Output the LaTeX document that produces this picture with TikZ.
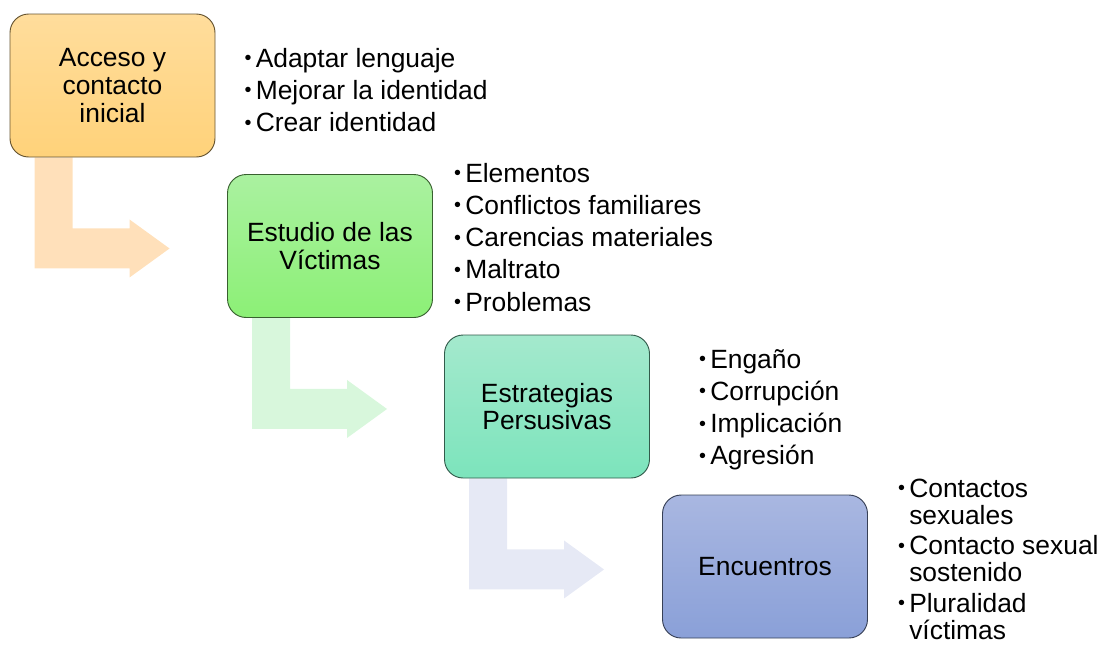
\documentclass[tikz,border=0pt]{standalone}
\usepackage{fontspec}
\setmainfont{Liberation Sans}
\definecolor{accTop}{RGB}{255,221,156}
\definecolor{accBot}{RGB}{255,210,122}
\definecolor{estTop}{RGB}{170,241,160}
\definecolor{estBot}{RGB}{140,240,118}
\definecolor{strTop}{RGB}{164,233,205}
\definecolor{strBot}{RGB}{124,228,188}
\definecolor{encTop}{RGB}{169,183,225}
\definecolor{encBot}{RGB}{138,160,216}
\definecolor{arrAcc}{RGB}{255,224,186}
\definecolor{arrEst}{RGB}{216,247,220}
\definecolor{arrStr}{RGB}{230,233,245}
\usetikzlibrary{calc}
\usetikzlibrary{shadings}
\pgfdeclarelayer{bg}
\pgfsetlayers{bg,main}
\newcommand{\dotitem}{\hspace{0.6pt}\raisebox{1.8pt}{\scalebox{0.75}{•}}}

\begin{document}
\begin{tikzpicture}[x=0.75pt, y=-0.75pt,
	stage/.style 2 args={top color=#1, bottom color=#2, draw=#2!40!black, line width=0.7pt,
		rounded corners=14pt, minimum width=153.75pt, minimum height=107.25pt,
		align=center, inner sep=2pt, font=\fontsize{19.8}{20.8}\selectfont},
	points/.style={anchor=base west, inner sep=0pt, font=\fontsize{19.8}{24.2}\selectfont}]
	\useasboundingbox (0,0) rectangle (1105,644);

	% etapas
	\node[stage={accTop}{accBot}] (acceso) at (112.5,85.5) {Acceso y\\contacto\\inicial};
	\node[stage={estTop}{estBot}] (estudio) at (330,246) {Estudio de las\\Víctimas};
	\node[stage={strTop}{strBot}] (estrategias) at (547,406.5) {Estrategias\\Persusivas};
	\node[stage={encTop}{encBot}] (encuentros) at (765,566.5) {Encuentros};

	% listas
	\node[points] (lacceso) at (243.5,67) {\begin{tabular}[t]{@{}l@{\hspace{3.2pt}}l@{}}
		\dotitem & Adaptar lenguaje\\
		\dotitem & Mejorar la identidad\\
		\dotitem & Crear identidad
	\end{tabular}};
	\node[points] (lestudio) at (453,182) {\begin{tabular}[t]{@{}l@{\hspace{3.2pt}}l@{}}
		\dotitem & Elementos\\
		\dotitem & Conflictos familiares\\
		\dotitem & Carencias materiales\\
		\dotitem & Maltrato\\
		\dotitem & Problemas
	\end{tabular}};
	\node[points] (lestrategias) at (698,368) {\begin{tabular}[t]{@{}l@{\hspace{3.2pt}}l@{}}
		\dotitem & Engaño\\
		\dotitem & Corrupción\\
		\dotitem & Implicación\\
		\dotitem & Agresión
	\end{tabular}};
	\node[points, font=\fontsize{19.8}{19.9}\selectfont] (lencuentros) at (897,497) {\begin{tabular}[t]{@{}l@{\hspace{3.2pt}}l@{}}
		\dotitem & Contactos\\
		         & sexuales\\[2.6pt]
		\dotitem & Contacto sexual\\
		         & sostenido\\[2.6pt]
		\dotitem & Pluralidad\\
		         & víctimas
	\end{tabular}};

	% flechas
	\begin{pgfonlayer}{bg}
		\foreach \from/\col in {acceso/arrAcc, estudio/arrEst, estrategias/arrStr} {
			\begin{scope}[shift={(\from.south west)}]
				\fill[\col] (25,0) -- (25,111) -- (120,111) -- (120,120) -- (160,91)
					-- (120,62) -- (120,71) -- (63,71) -- (63,0) -- cycle;
			\end{scope}
		}
	\end{pgfonlayer}
\end{tikzpicture}
\end{document}
